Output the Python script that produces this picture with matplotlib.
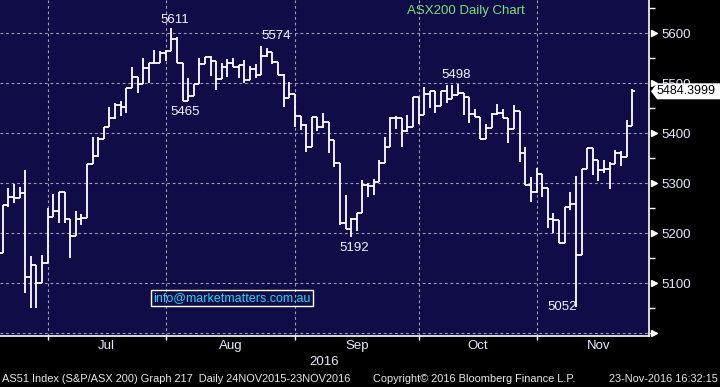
import numpy as np
import pandas as pd
import matplotlib
matplotlib.use("Agg")
import matplotlib.pyplot as plt
from matplotlib.ticker import FixedLocator, MultipleLocator, NullFormatter
from matplotlib.patches import Polygon
import matplotlib.transforms as mtransforms

# ASX200 daily bars, 20-Jun-2016 .. 23-Nov-2016
dates = pd.bdate_range("2016-06-20", "2016-11-23")

opens = [5161, 5256, 5273, 5270, 5280, 5112, 5136, 5101, 5141, 5232,
         5245, 5282, 5228, 5195, 5228, 5230, 5339, 5355, 5389, 5412,
         5430, 5457, 5452, 5490, 5513, 5499, 5530, 5540, 5541, 5560,
         5565, 5588, 5540, 5465, 5475, 5499, 5539, 5553, 5545, 5508,
         5533, 5540, 5533, 5537, 5507, 5528, 5517, 5555, 5563, 5543,
         5517, 5470, 5479, 5435, 5417, 5372, 5432, 5413, 5423, 5387,
         5340, 5220, 5208, 5228, 5240, 5297, 5295, 5303, 5340, 5373,
         5431, 5431, 5405, 5412, 5473, 5437, 5479, 5485, 5455, 5485,
         5468, 5477, 5480, 5473, 5438, 5433, 5388, 5410, 5439, 5441,
         5430, 5408, 5445, 5360, 5297, 5283, 5318, 5290, 5228, 5227,
         5180, 5253, 5258, 5157, 5328, 5370, 5347, 5327, 5328, 5338,
         5361, 5352, 5415]
highs = [5257, 5290, 5298, 5292, 5327, 5155, 5136, 5157, 5250, 5279,
         5282, 5282, 5228, 5245, 5239, 5339, 5393, 5393, 5413, 5452,
         5461, 5465, 5490, 5532, 5513, 5550, 5540, 5567, 5565, 5567,
         5611, 5592, 5540, 5510, 5499, 5550, 5553, 5555, 5545, 5540,
         5548, 5550, 5537, 5547, 5535, 5538, 5574, 5570, 5563, 5543,
         5518, 5503, 5479, 5435, 5419, 5432, 5432, 5440, 5423, 5387,
         5340, 5277, 5230, 5241, 5307, 5301, 5308, 5347, 5392, 5433,
         5435, 5431, 5437, 5473, 5473, 5492, 5485, 5485, 5485, 5497,
         5497, 5498, 5480, 5473, 5448, 5433, 5418, 5440, 5459, 5448,
         5430, 5457, 5445, 5373, 5313, 5330, 5318, 5290, 5241, 5227,
         5253, 5283, 5315, 5328, 5370, 5370, 5347, 5347, 5343, 5367,
         5365, 5427, 5488]
lows = [5161, 5253, 5260, 5270, 5081, 5051, 5051, 5101, 5141, 5232,
        5220, 5221, 5150, 5195, 5217, 5230, 5339, 5353, 5389, 5412,
        5429, 5435, 5441, 5490, 5480, 5499, 5500, 5540, 5540, 5545,
        5565, 5540, 5465, 5465, 5475, 5499, 5539, 5515, 5487, 5508,
        5513, 5533, 5510, 5501, 5507, 5511, 5517, 5553, 5538, 5517,
        5453, 5470, 5413, 5407, 5363, 5372, 5405, 5410, 5360, 5333,
        5217, 5208, 5192, 5205, 5240, 5273, 5277, 5303, 5340, 5373,
        5409, 5373, 5403, 5412, 5419, 5437, 5450, 5440, 5455, 5460,
        5468, 5477, 5437, 5421, 5433, 5388, 5388, 5410, 5437, 5430,
        5380, 5408, 5343, 5297, 5263, 5280, 5273, 5210, 5200, 5180,
        5180, 5247, 5052, 5157, 5328, 5317, 5305, 5321, 5288, 5338,
        5335, 5352, 5415]
closes = [5256, 5273, 5270, 5280, 5112, 5136, 5101, 5141, 5232, 5245,
          5282, 5228, 5195, 5228, 5230, 5339, 5355, 5389, 5412, 5430,
          5457, 5452, 5490, 5513, 5499, 5530, 5540, 5541, 5560, 5565,
          5588, 5540, 5465, 5475, 5499, 5539, 5553, 5545, 5508, 5533,
          5540, 5533, 5537, 5507, 5528, 5517, 5555, 5563, 5543, 5517,
          5470, 5479, 5435, 5417, 5372, 5432, 5413, 5423, 5387, 5340,
          5220, 5208, 5228, 5240, 5297, 5295, 5303, 5340, 5373, 5431,
          5431, 5405, 5412, 5473, 5437, 5479, 5485, 5455, 5485, 5468,
          5477, 5480, 5473, 5438, 5433, 5388, 5410, 5439, 5441, 5430,
          5408, 5445, 5360, 5297, 5283, 5318, 5290, 5228, 5227, 5180,
          5253, 5258, 5157, 5328, 5370, 5347, 5327, 5328, 5338, 5361,
          5352, 5415, 5484.3999]

# bars whose high / low is marked on the chart
high_marks = [30, 46, 81]
low_marks = [32, 62, 102]

price_ticks = [5100, 5200, 5300, 5400, 5500, 5600]

BG = "#0f0c48"
GRID = "#a09cb8"
TXT = "#e6e8ff"
FONT = ["Liberation Sans", "DejaVu Sans"]
plt.rcParams["font.family"] = FONT

fig = plt.figure(figsize=(7.2, 3.87), dpi=100, facecolor="black")
ax = fig.add_axes([0, 51 / 387, 649 / 720, 336 / 387])
ax.set_facecolor(BG)

x = np.arange(len(dates))
ax.vlines(x, lows, highs, color="white", lw=1.3, zorder=3)
ax.hlines(opens, x - 0.5, x, color="white", lw=1.3, zorder=3)
ax.hlines(closes, x, x + 0.5, color="white", lw=1.3, zorder=3)

ax.set_xlim(-0.48, 115.0)
ax.set_ylim(4995, 5667)

# month boundaries and label centres
months = dates.to_period("M")
tick_pos, label_pos, label_txt = [], [], []
for m in months.unique()[1:]:
    first = int(np.where(months == m)[0][0])
    n_days = len(pd.bdate_range(m.start_time, m.end_time))
    tick_pos.append(first - 1)
    label_pos.append(first - 1 + n_days / 2)
    label_txt.append(m.strftime("%b"))

dash = (0, (2.5, 2.5))
for t in tick_pos:
    ax.axvline(t, color=GRID, lw=0.8, ls=dash, zorder=1)
for p in [5000] + price_ticks:
    ax.axhline(p, color=GRID, lw=0.8, ls=dash, zorder=1)

ax.xaxis.set_major_locator(FixedLocator(tick_pos))
ax.xaxis.set_major_formatter(NullFormatter())
ax.tick_params(axis="x", which="major", length=3, width=1, color="white",
               direction="out")
for lp, lt in zip(label_pos, label_txt):
    ax.text(lp, -0.03, lt, transform=ax.get_xaxis_transform(), ha="center",
            va="center", color=TXT, fontsize=9.5)
ax.text(0.5, -0.078, "2016", transform=ax.transAxes, ha="center",
        va="center", color=TXT, fontsize=9.5)

ax.yaxis.tick_right()
ax.yaxis.set_major_locator(FixedLocator(price_ticks))
ax.yaxis.set_minor_locator(MultipleLocator(50))
ax.tick_params(axis="y", which="major", length=0, pad=9, labelsize=9.5,
               labelcolor=TXT)
ax.tick_params(axis="y", which="minor", length=4, width=1, color="white")
ax.set_yticklabels([str(p) for p in price_ticks])

# little arrow heads on the major price ticks
tri_tr = mtransforms.blended_transform_factory(ax.transAxes, ax.transData)
ax.plot([1.007] * 7, [5000] + price_ticks, ls="none", marker=">",
        markersize=5, color="white", transform=tri_tr, clip_on=False,
        zorder=4)

for side in ["left", "top"]:
    ax.spines[side].set_visible(False)
for side in ["right", "bottom"]:
    ax.spines[side].set_color("white")
    ax.spines[side].set_linewidth(1.2)

lab_col = "#f2f2ff"
style = {30: ("center", 3, 5), 46: ("left", 0, 7), 81: ("center", -2, 6)}
for i in high_marks:
    ha, dx, dy = style[i]
    ax.annotate(f"{highs[i]:.0f}", (i, highs[i]), xytext=(dx, dy),
                textcoords="offset pixels", ha=ha, va="baseline",
                color=lab_col, fontsize=9.5, zorder=5)
style = {32: ("center", 3, -5, "top"), 62: ("center", 3, -5, "top"),
         102: ("right", 1, -3, "baseline")}
for i in low_marks:
    ha, dx, dy, va = style[i]
    ax.annotate(f"{lows[i]:.0f}", (i, lows[i]), xytext=(dx, dy),
                textcoords="offset pixels", ha=ha, va=va,
                color=lab_col, fontsize=9.5, zorder=5)

fig.text(407 / 720, 1 - 11 / 387, "ASX200 Daily Chart", color="#7de07a",
         fontsize=9.5, ha="left", va="center")

ax.text(232 / 649, 1 - 298 / 336, "info@marketmatters.com.au",
        transform=ax.transAxes, color="#22d8f8", fontsize=9, ha="center",
        va="center", zorder=6,
        bbox=dict(boxstyle="square,pad=0.15", fc="none", ec="white", lw=1))

# last price flag
yc = ax.transData.transform((0, closes[-1]))[1]
flag = Polygon([(651, yc), (657, yc + 8), (720, yc + 8), (720, yc - 8),
                (657, yc - 8)], closed=True, fc="white", ec="none",
               transform=None, zorder=10)
fig.add_artist(flag)
fig.text(657 / 720, yc / 387, f"{closes[-1]:.4f}", color="black",
         fontsize=9, ha="left", va="center", zorder=11)

foot_y = 1 - 379 / 387
foot_fs = 7.9
fig.text(2 / 720, foot_y,
         "AS51 Index (S&P/ASX 200) Graph 217  Daily 24NOV2015-23NOV2016",
         color="#e8e8e8", fontsize=foot_fs, ha="left", va="center")
fig.text(373 / 720, foot_y, "Copyright\u00a9 2016 Bloomberg Finance L.P.",
         color="#e8e8e8", fontsize=foot_fs, ha="left", va="center")
fig.text(718 / 720, foot_y, "23-Nov-2016 16:32:15", color="#e8e8e8",
         fontsize=foot_fs, ha="right", va="center")

fig.savefig("out.png", dpi=100, facecolor="black")
